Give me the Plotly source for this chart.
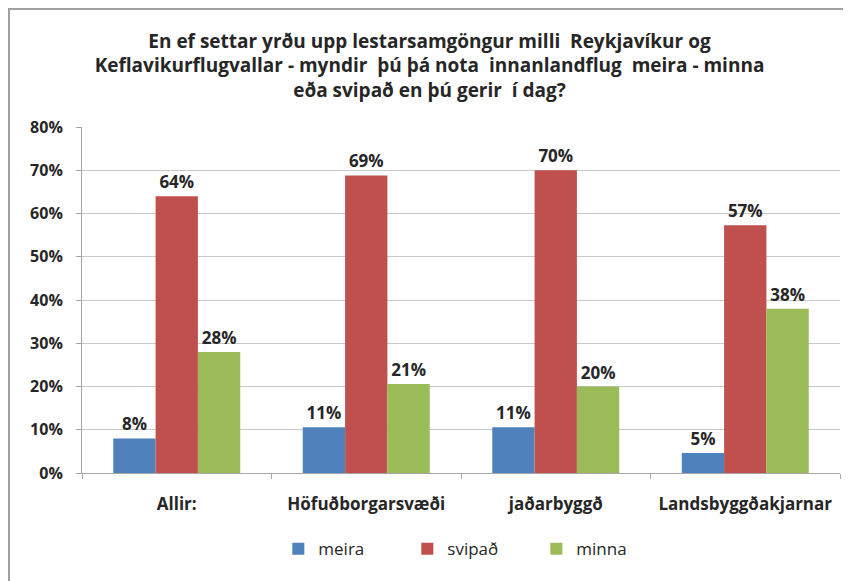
import plotly.graph_objects as go

categories = ["Allir:", "Höfuðborgarsvæði", "jaðarbyggð", "Landsbyggðakjarnar"]
meira = [0.08, 0.106, 0.106, 0.046]
svipad = [0.64, 0.688, 0.70, 0.573]
minna = [0.28, 0.206, 0.20, 0.38]
yticks = [0, 0.1, 0.2, 0.3, 0.4, 0.5, 0.6, 0.7, 0.8]

title = ("En ef settar yrðu upp lestarsamgöngur milli  Reykjavíkur og<br>"
         "Keflavikurflugvallar - myndir  þú þá nota  innanlandflug  meira - minna<br>"
         "eða svipað en þú gerir  í dag?")

font = "'Open Sans', Lato, sans-serif"
ink = "#262626"

fig = go.Figure()
for name, vals, color in [("meira", meira, "#4F81BD"),
                          ("svipað", svipad, "#C0504D"),
                          ("minna", minna, "#9BBB59")]:
    fig.add_trace(go.Bar(
        x=categories, y=vals, name=name,
        marker=dict(color=color, line=dict(width=0)),
        texttemplate="%{y:.0%}",
        textposition="outside",
        textfont=dict(family=font, size=17, color=ink, weight="bold"),
        cliponaxis=False,
    ))

# the page body adds an 8px offset, so the figure is 8px smaller
fig.update_layout(
    width=843, height=573,
    margin=dict(l=74, r=11, t=119, b=108),
    paper_bgcolor="white", plot_bgcolor="white",
    barmode="group", bargap=0.33, bargroupgap=0,
    font=dict(family=font, color=ink),
    title=dict(text=title, x=0.5, xref="container", xanchor="center",
               y=0.931, yanchor="top",
               font=dict(family=font, size=19, color=ink, weight="bold")),
    legend=dict(orientation="h", x=0.259, xanchor="left", y=-0.22, yanchor="middle",
                font=dict(family=font, size=17, color=ink),
                entrywidth=84, traceorder="normal"),
    showlegend=True,
)
fig.update_xaxes(
    showline=True, linecolor="#A6A6A6", linewidth=1,
    ticks="outside", tickson="boundaries", ticklen=5, tickcolor="#A6A6A6",
    ticklabelstandoff=16,
    tickfont=dict(family=font, size=17, color=ink, weight="bold"),
    showgrid=False,
)
fig.update_yaxes(
    range=[0, 0.8], tickvals=yticks, tickformat=".0%",
    showline=True, linecolor="#A6A6A6", linewidth=1,
    ticks="outside", ticklen=5, tickcolor="#A6A6A6", ticklabelstandoff=10,
    tickfont=dict(family=font, size=16, color=ink, weight="bold"),
    showgrid=True, gridcolor="#C8C8C8", gridwidth=1,
    zeroline=False,
)
# chart frame (left and top edges visible)
fig.add_shape(type="rect", xref="paper", yref="paper",
              x0=-73 / 758, x1=1.05, y0=-0.35, y1=1 + 118 / 346,
              line=dict(color="#A0A0A0", width=2), layer="below")

fig.write_html("out.html")
